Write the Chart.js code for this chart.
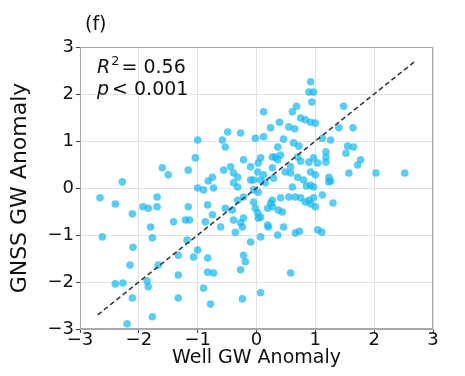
<!DOCTYPE html>
<html>
<head>
<meta charset="utf-8">
<script src="https://cdn.jsdelivr.net/npm/chart.js@4/dist/chart.umd.min.js"></script>
<style>
  html, body { margin: 0; padding: 0; background: #fff; }
  #wrap { width: 465px; height: 376px; }
</style>
</head>
<body>
<div id="wrap"><canvas id="scatter"></canvas></div>
<script>
// well anomaly (x) and GNSS anomaly (y)
const wellGW = [
  0.92, 0.89, 0.97, 0.94, 1.48, 0.12, 0.61, 0.68, 0.75, 0.83, 0.92, 1.0, 0.39, 0.24, 0.55, 0.65, 1.40, 1.64,
  -0.02, 0.12, 0.46, 0.36, 0.63, 0.72, 1.12, 1.26, 1.55, 1.65, 1.52, 1.18, 1.18, 1.18, 0.97, 0.32, 0.41, 0.07,
  0.03, 0.70, 0.75, 0.89, 1.04, 1.77, 1.72, 1.57, 2.03, 2.52, 0.02, 0.12, 1.23, 1.26, 0.58, 0.70, 0.80, 0.92,
  0.29, 0.27, -0.49, -0.27, -0.58, -0.53, -1.0, -0.22, -0.75, -0.39, -0.32, -0.10, -0.73, -0.90, -0.32, 0.15,
  0.03, 0.61, 0.85, 0.97, -1.04, -1.60, -1.50, -1.16, -2.28, -1.0,
  -2.66, -2.40, -2.11, -1.93, -1.84, -1.69, -1.69, -1.80, -2.62, -1.77, -2.10, -1.41, -1.21, -1.14, -1.16, -1.18,
  -1.33, -2.15, -1.67, -1.33, -2.40, -2.27, -1.86, -1.84, -2.11, -1.33, -1.77, -2.20, -0.83, -0.82, -0.39, -0.05,
  -0.87, -0.75, -0.61, -0.39, -0.27, -0.22, -0.36, -0.24, -0.10, -1.0, -1.07, -0.83, -0.83, -0.73, -0.27, -0.19,
  -0.22, -0.90, -0.78, -0.24, 0.58, 0.07, 0.07, 0.20, 0.36, 0.46, 0.66, 0.73, 1.04, 1.11, 0.03, 0.02,
  -0.02, 0.19, 0.27, 0.37, 0.44, 0.27, 0.41, 0.55, 0.66, 0.75, 0.89, 0.97, -0.32, -0.22, -0.53, -0.41,
  -0.05, 0.07, 0.19, 0.24, 0.83, 0.92, 1.0, 1.12, 1.30, 1.23, -0.10, -0.05, 0.07,
  0.27, 0.36, -0.56, -0.44, 0.58, 0.49, 0.92, 1.0
];
const gnssGW = [
  2.26, 2.04, 2.04, 1.83, 1.74, 1.62, 1.62, 1.74, 1.49, 1.45, 1.40, 1.38, 1.40, 1.28, 1.30, 1.26, 1.28, 1.28,
  1.06, 1.09, 1.04, 0.87, 0.96, 0.89, 1.06, 1.02, 0.89, 0.87, 0.74, 0.77, 0.66, 0.55, 0.64, 0.66, 0.70, 0.64,
  0.53, 0.66, 0.57, 0.55, 0.53, 0.60, 0.49, 0.32, 0.32, 0.32, 0.34, 0.28, 0.23, 0.15, 0.32, 0.23, 0.17, 0.06,
  0.21, 0.43, 1.19, 1.17, 1.02, 0.87, 1.02, 0.60, 0.23, 0.32, 0.23, 0.17, 0.0, -0.04, 0.02, 0.11,
  -0.09, 0.02, 0.04, 0.02, 0.64, 0.43, 0.28, 0.38, 0.13, 0.0,
  -0.21, -0.34, -0.55, -0.40, -0.43, -0.40, -0.19, -0.83, -1.04, -1.06, -1.26, -0.72, -0.68, -0.68, -0.40, -1.11,
  -1.43, -1.64, -1.64, -1.85, -2.04, -2.02, -1.98, -2.10, -2.34, -2.34, -2.74, -2.89, -0.36, 0.15, 0.11, -0.04,
  -0.72, -0.57, -0.83, -0.68, -0.74, -0.64, -0.94, -0.83, -1.15, -1.32, -1.47, -1.49, -1.79, -1.81, -1.74, -1.57,
  -1.43, -2.13, -2.47, -2.36, -1.81, -2.23, -1.04, -0.83, -1.00, -0.83, -0.96, -0.92, -0.89, -0.94, -0.64, -0.53,
  -0.43, -0.43, -0.40, -0.47, -0.51, -0.26, -0.21, -0.19, -0.19, -0.21, -0.26, -0.21, -0.26, -0.19, -0.43, -0.47,
  -0.30, -0.62, -0.79, -0.32, -0.30, -0.34, -0.40, -0.15, -0.32, 0.13, 0.45, 0.17, 0.17,
  0.66, 0.60, 0.38, 0.45, 0.45, 0.34, 0.34, 0.28
];
const oneToOne = [-2.7, 2.7];
const axisTicks = [-3, -2, -1, 0, 1, 2, 3];
const panelLabel = '(f)';

const FONT = 'DejaVu Sans';

const points = wellGW.map((x, i) => ({ x: x, y: gnssGW[i] }));
const linePts = oneToOne.map(v => ({ x: v, y: v }));

function fmtTick(v) {
  return v < 0 ? '\u2212' + Math.abs(v) : String(v);
}

// frame + text labels, drawn straight on the canvas
const extras = {
  id: 'extras',
  afterDraw(chart) {
    const { ctx, chartArea: a } = chart;
    ctx.save();
    ctx.strokeStyle = '#a8a8a8';
    ctx.lineWidth = 1;
    ctx.strokeRect(a.left + 0.5, a.top + 0.5, a.right - a.left - 1, a.bottom - a.top - 1);

    ctx.fillStyle = '#111';
    ctx.textBaseline = 'alphabetic';
    ctx.font = '19px ' + FONT;
    ctx.fillText(panelLabel, 85, 30);

    // R^2 = 0.56
    let x = 97;
    ctx.font = 'italic 19px ' + FONT;
    ctx.fillText('R', x, 73);
    x += ctx.measureText('R').width + 1;
    ctx.font = '13px ' + FONT;
    ctx.fillText('2', x, 65);
    x += ctx.measureText('2').width + 2;
    ctx.font = '19px ' + FONT;
    ctx.fillText('= 0.56', x, 73);

    // p < 0.001
    x = 97;
    ctx.font = 'italic 19px ' + FONT;
    ctx.fillText('p', x, 95);
    x += ctx.measureText('p').width + 3;
    ctx.font = '19px ' + FONT;
    ctx.fillText('< 0.001', x, 95);
    ctx.restore();
  }
};

function axis(title, isY) {
  return {
    type: 'linear',
    min: -3,
    max: 3,
    afterBuildTicks: s => { s.ticks = axisTicks.map(v => ({ value: v })); },
    afterFit: s => { if (isY) s.width = 80; else s.height = 47; },
    grid: { color: '#e2e2e2', lineWidth: 1, tickColor: '#444', tickLength: 4 },
    border: { color: '#a8a8a8' },
    ticks: {
      color: '#111',
      padding: isY ? 2 : -3,
      font: { family: FONT, size: 18 },
      callback: v => fmtTick(v)
    },
    title: {
      display: true,
      text: title,
      color: '#111',
      font: { family: FONT, size: isY ? 22 : 19 },
      padding: isY ? { top: 7, bottom: 0 } : { top: 0, bottom: 7 }
    }
  };
}

new Chart(document.getElementById('scatter'), {
  type: 'scatter',
  data: {
    datasets: [
      {
        type: 'line',
        data: linePts,
        borderColor: '#3a3a3a',
        borderWidth: 1.6,
        borderDash: [5, 3],
        pointRadius: 0,
        fill: false
      },
      {
        data: points,
        backgroundColor: 'rgba(20, 184, 240, 0.7)',
        borderWidth: 0,
        pointRadius: 3.8
      }
    ]
  },
  options: {
    responsive: true,
    maintainAspectRatio: false,
    animation: false,
    layout: { padding: { top: 47, right: 32, left: 0, bottom: 0 } },
    plugins: { legend: { display: false }, tooltip: { enabled: false } },
    scales: {
      x: axis('Well GW Anomaly', false),
      y: axis('GNSS GW Anomaly', true)
    }
  },
  plugins: [extras]
});
</script>
</body>
</html>
